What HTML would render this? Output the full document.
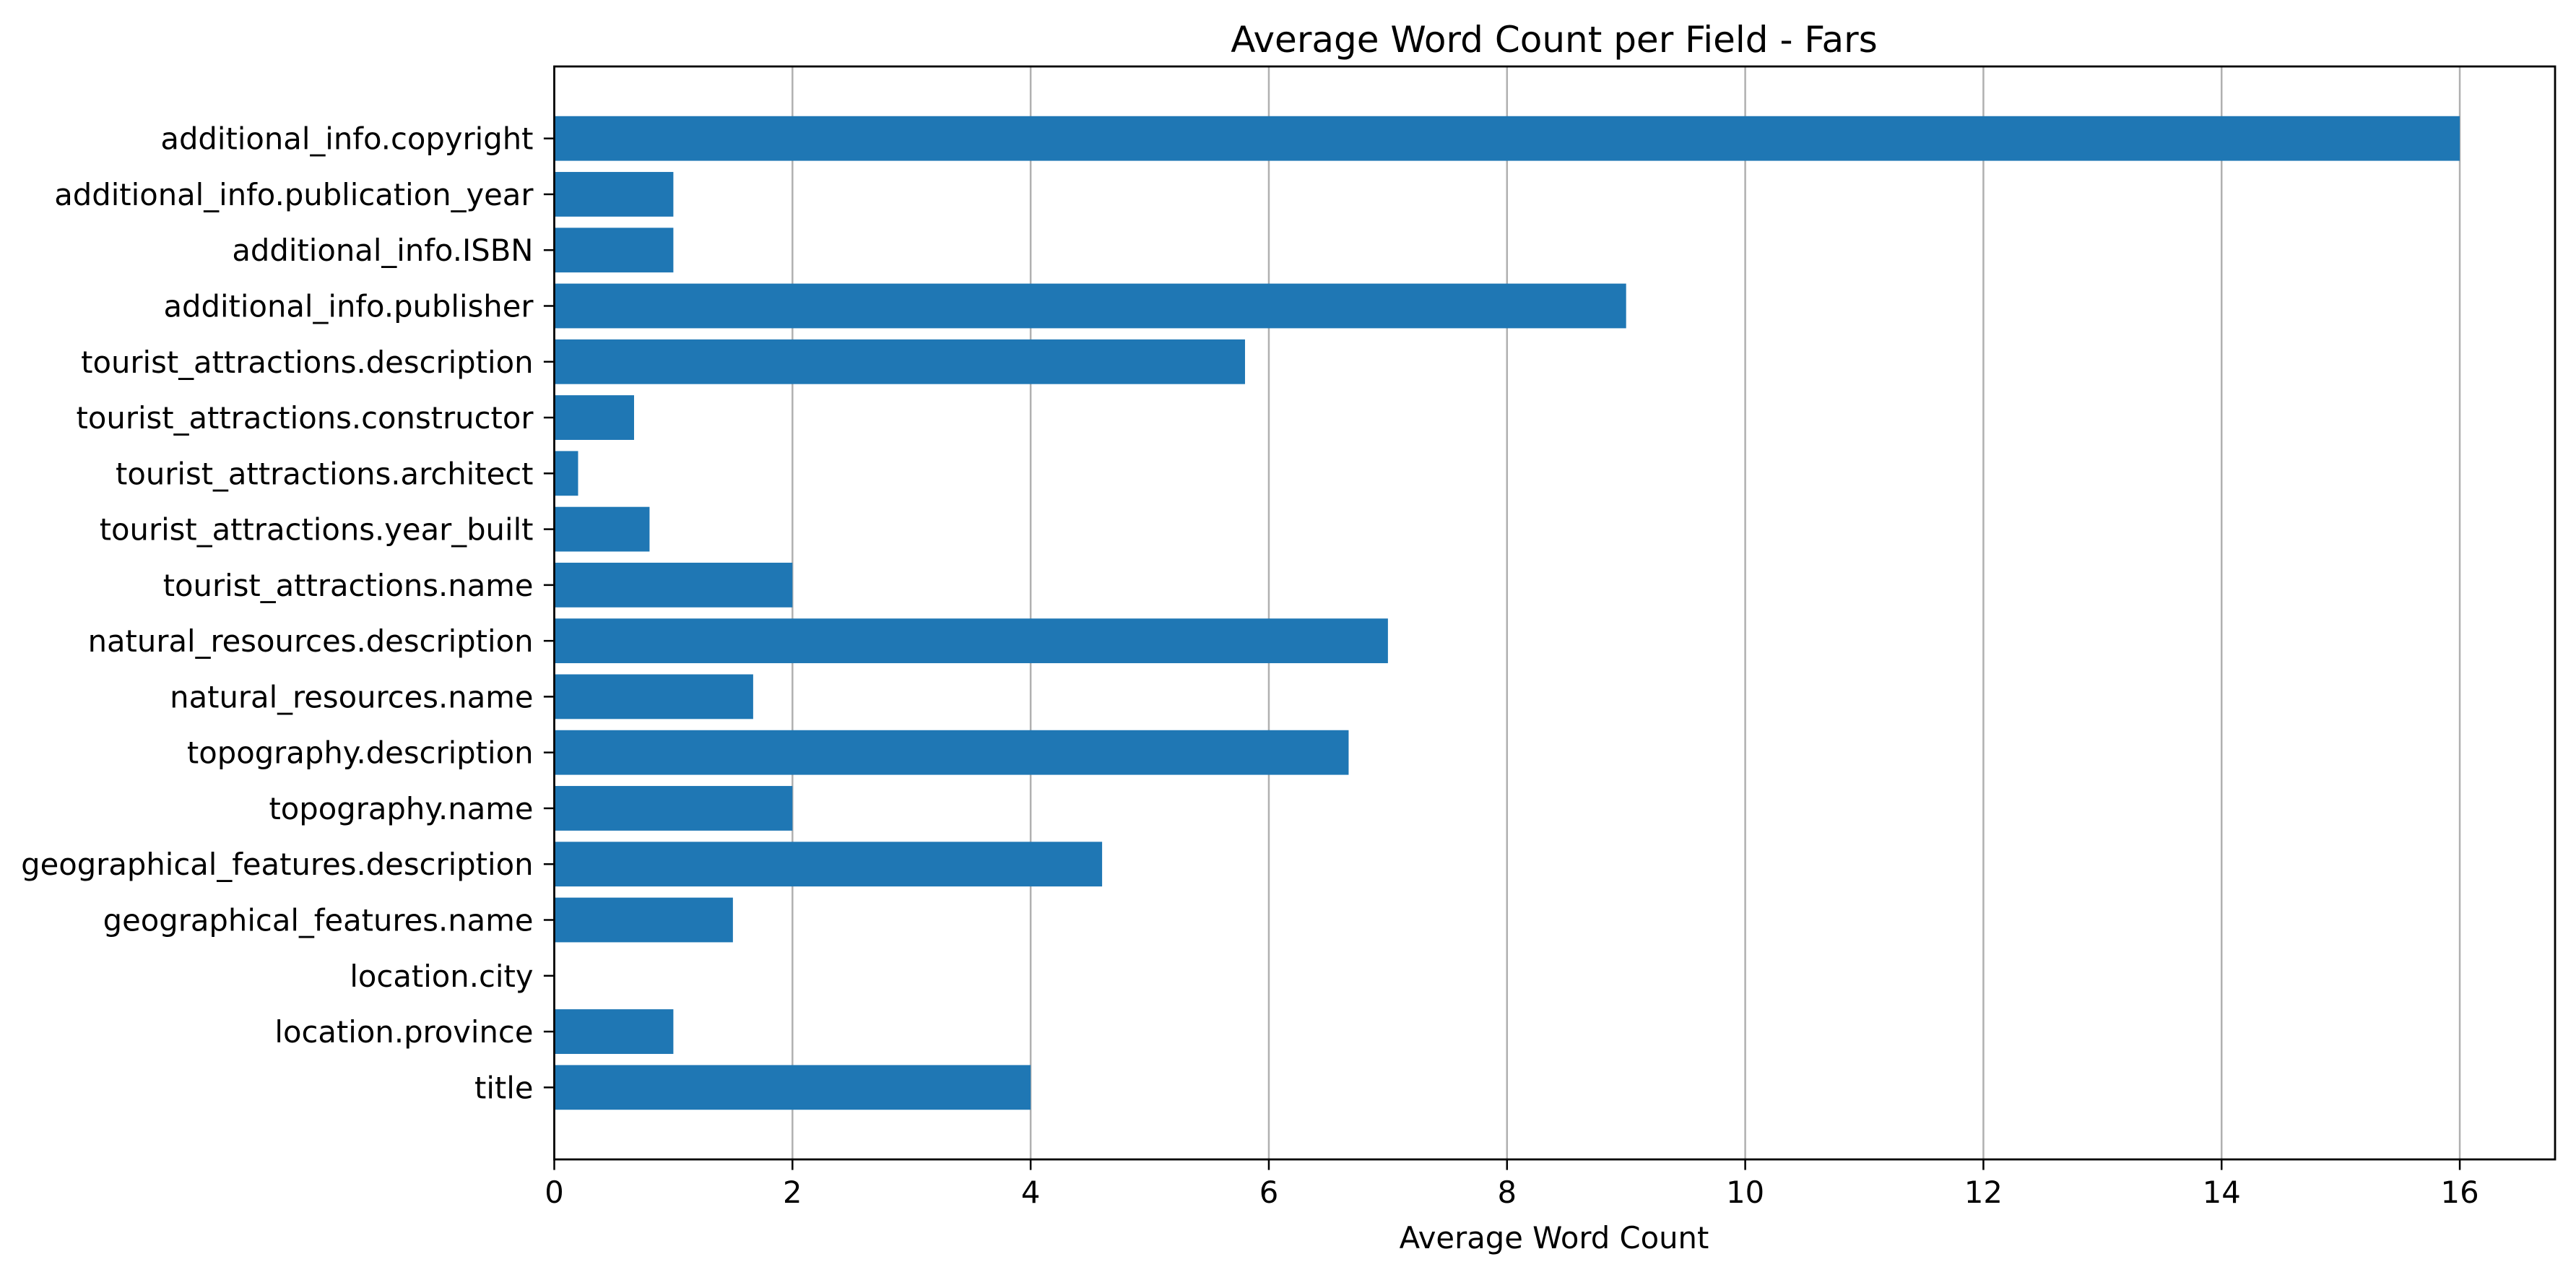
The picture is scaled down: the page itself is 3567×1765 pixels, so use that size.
<!DOCTYPE html>
<html><head><meta charset="utf-8"><style>
html,body{margin:0;padding:0;background:#fff;}
svg{display:block;font-family:"DejaVu Sans","Liberation Sans",sans-serif;}
</style></head><body>
<svg id="chart" width="3567" height="1765" viewBox="0 0 3567 1765" xmlns="http://www.w3.org/2000/svg">
<rect width="3567" height="1765" fill="#fff"/>
<text x="2152" y="72" font-size="50" text-anchor="middle">Average Word Count per Field - Fars</text>
<g id="grid"></g><g id="bars"></g><g id="axes"></g>
<text x="2152" y="1728" font-size="41.7" text-anchor="middle">Average Word Count</text>
</svg>
<script>
const categories = ["title","location.province","location.city","geographical_features.name","geographical_features.description","topography.name","topography.description","natural_resources.name","natural_resources.description","tourist_attractions.name","tourist_attractions.year_built","tourist_attractions.architect","tourist_attractions.constructor","tourist_attractions.description","additional_info.publisher","additional_info.ISBN","additional_info.publication_year","additional_info.copyright"];
const values = [4,1,0,1.5,4.6,2,6.67,1.67,7,2,0.8,0.2,0.67,5.8,9,1,1,16];
const xTicks = [0,2,4,6,8,10,12,14,16];
const xTickLabels = ["0","2","4","6","8","10","12","14","16"];

const L=767.5,R=3538,T=92,B=1605;
const xMax = Math.max(...values)*1.05;
const x = v => L + v/xMax*(R-L);
const n = categories.length;
const yMin = -0.4-(n-0.2)*0.05, yMaxV = n-1+0.4+(n-0.2)*0.05;
const y = v => T + (yMaxV-v)/(yMaxV-yMin)*(B-T);
const NS="http://www.w3.org/2000/svg";
function mk(tag,parent,attrs){const e=document.createElementNS(NS,tag);for(const k in attrs)e.setAttribute(k,attrs[k]);parent.appendChild(e);return e;}
const grid=document.getElementById('grid'),bars=document.getElementById('bars'),axes=document.getElementById('axes');
xTicks.forEach((t,i)=>{
  const gl=mk('line',grid,{x1:x(t),x2:x(t),y1:T,y2:B,stroke:'#b0b0b0','stroke-width':2.5});
  
  
  const tk=mk('line',axes,{x1:x(t),x2:x(t),y1:B,y2:B+14.6,stroke:'#000','stroke-width':2.5});
  
  
  const tl=mk('text',axes,{x:x(t),y:B+60,'font-size':41.7,'text-anchor':'middle'});
  tl.textContent=xTickLabels[i];
  
  
});
const h=0.8*(B-T)/(yMaxV-yMin);
categories.forEach((c,i)=>{
  const r=mk('rect',bars,{x:L,y:y(i)-h/2,width:Math.max(0,x(values[i])-L),height:h,fill:'#1f77b4'});
  
  
  const tk=mk('line',axes,{x1:L-14.6,x2:L,y1:y(i),y2:y(i),stroke:'#000','stroke-width':2.5});
  
  
  const tl=mk('text',axes,{x:L-29,y:y(i)+15,'font-size':41.7,'text-anchor':'end'});
  tl.textContent=c;
  
  
});
const fr=mk('rect',axes,{x:L,y:T,width:R-L,height:B-T,fill:'none',stroke:'#000','stroke-width':2.8});


</script>
</body></html>
